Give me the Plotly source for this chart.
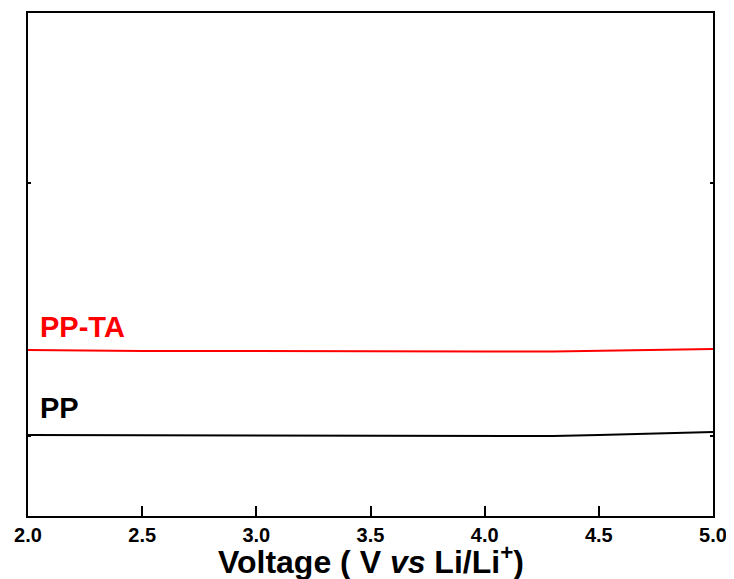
import plotly.graph_objects as go

voltage = [2.0, 2.5, 3.0, 3.5, 4.0, 4.3, 4.5, 4.75, 5.0]
pp = [0.004, 0.003, 0.0, -0.001, 0.0, 0.0, 0.004, 0.010, 0.016]
pp_ta = [0.340, 0.336, 0.336, 0.334, 0.334, 0.334, 0.336, 0.339, 0.344]
x_ticks = [2.0, 2.5, 3.0, 3.5, 4.0, 4.5, 5.0]
x_tick_labels = ["2.0", "2.5", "3.0", "3.5", "4.0", "4.5", "5.0"]

FONT = "Liberation Sans Narrow, Arial Narrow, Liberation Sans, Arial"

fig = go.Figure()
fig.add_trace(go.Scatter(x=voltage, y=pp, mode="lines",
                         line=dict(color="black", width=2), showlegend=False))
fig.add_trace(go.Scatter(x=voltage, y=pp_ta, mode="lines",
                         line=dict(color="#ff0000", width=2), showlegend=False))

# page body has an 8px margin, so the figure is offset by (8, 8)
fig.update_layout(
    width=726, height=571,
    margin=dict(l=20, r=21, t=5, b=63, autoexpand=False),
    plot_bgcolor="white", paper_bgcolor="white",
    font=dict(family=FONT, color="black"),
)
fig.update_xaxes(
    range=[2.0, 5.0], tickvals=x_ticks, ticktext=x_tick_labels,
    ticks="inside", ticklen=10, tickwidth=2, tickcolor="black",
    showline=True, linewidth=2, linecolor="black", mirror=True,
    showgrid=False, zeroline=False, automargin=False,
    tickfont=dict(family=FONT, size=20, color="black", weight="bold"),
)
fig.update_yaxes(
    range=[-0.316, 1.672], tickvals=[0, 1], showticklabels=False,
    ticks="inside", ticklen=3, tickwidth=2, tickcolor="black",
    showline=True, linewidth=2, linecolor="black", mirror="ticks",
    showgrid=False, zeroline=False, automargin=False,
)

fig.add_annotation(x=0.5, y=-0.088, xref="paper", yref="paper",
                   text="Voltage ( V <i>vs</i> Li/Li<sup>+</sup>)",
                   showarrow=False, xanchor="center", yanchor="middle",
                   font=dict(family=FONT, size=32, color="black", weight="bold"))
fig.add_annotation(x=2.0, y=0.34, xref="x", yref="y", xshift=10, yshift=23,
                   text="PP-TA", showarrow=False, xanchor="left", yanchor="middle",
                   font=dict(family="Liberation Sans, Arial", size=29, color="#ff0000", weight="bold"))
fig.add_annotation(x=2.0, y=0.0, xref="x", yref="y", xshift=10, yshift=28,
                   text="PP", showarrow=False, xanchor="left", yanchor="middle",
                   font=dict(family="Liberation Sans, Arial", size=29, color="black", weight="bold"))

fig.write_html("out.html")
